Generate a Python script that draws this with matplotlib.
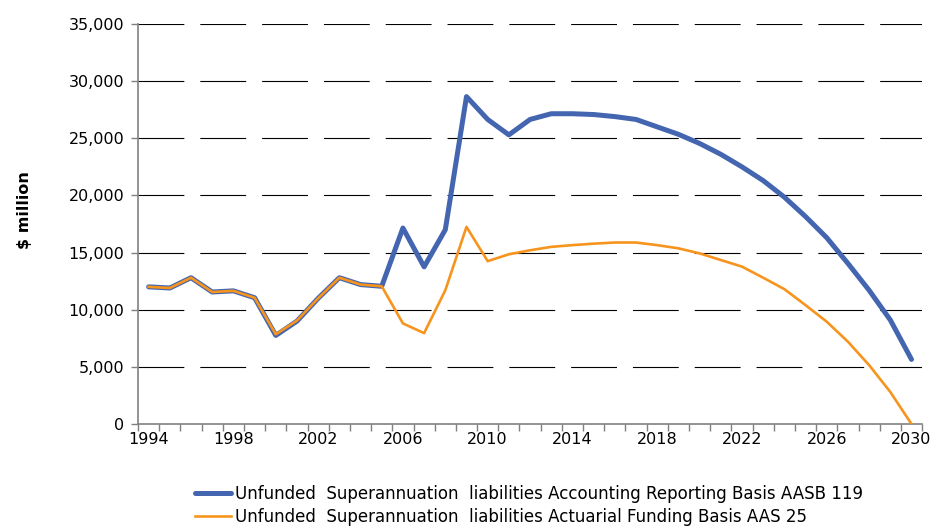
import matplotlib
matplotlib.use("Agg")
import matplotlib.pyplot as plt
import numpy as np
from matplotlib.ticker import FuncFormatter, MultipleLocator, FixedLocator

plt.rcParams['font.family'] = ['DejaVu Sans']
plt.rcParams['lines.scale_dashes'] = False

years = list(range(1994, 2031))
aasb119 = [12000, 11900, 12800, 11550, 11650, 11050, 7750, 9000, 11000, 12800, 12200, 12050,
           17150, 13750, 17000, 28650, 26650, 25300, 26650, 27150, 27150, 27080, 26900, 26650,
           26000, 25350, 24550, 23600, 22500, 21300, 19850, 18150, 16300, 14050, 11700, 9100, 5650]
aas25 = [12000, 11900, 12800, 11550, 11650, 11050, 7850, 9050, 11000, 12800, 12200, 12050,
         8800, 7950, 11700, 17250, 14250, 14850, 15200, 15500, 15650, 15780, 15880, 15880,
         15650, 15370, 14930, 14350, 13770, 12800, 11800, 10400, 8950, 7200, 5150, 2800, 0]

label1 = "Unfunded  Superannuation  liabilities Accounting Reporting Basis AASB 119"
label2 = "Unfunded  Superannuation  liabilities Actuarial Funding Basis AAS 25"

fs = 11.5
fig = plt.figure(figsize=(9.39, 5.28), dpi=100)
ax = fig.add_axes([0.147, 0.197, 0.835, 0.7575])

for v in range(5000, 35001, 5000):
    ax.axhline(v, color='black', lw=0.8, linestyle=(0, (33, 11.5)), zorder=1)

ax.plot(years, aasb119, color='#4466B0', lw=3.6, solid_capstyle='round', solid_joinstyle='round', zorder=3, label=label1)
ax.plot(years, aas25, color='#F7941D', lw=1.9, solid_joinstyle='round', zorder=4, label=label2)

ax.set_xlim(1993.5, 2030.5)
ax.set_ylim(0, 35000)
ax.yaxis.set_major_locator(MultipleLocator(5000))
ax.yaxis.set_major_formatter(FuncFormatter(lambda v, p: f"{int(v):,}"))
ax.xaxis.set_major_locator(FixedLocator(list(range(1994, 2031, 4))))
ax.xaxis.set_minor_locator(FixedLocator(list(np.arange(1993.5, 2031, 1.0))))
ax.tick_params(axis='x', which='major', length=0, pad=6, labelsize=fs)
ax.tick_params(axis='x', which='minor', length=5, color='#808080', width=1)
ax.tick_params(axis='y', which='major', length=5, color='#808080', width=1, labelsize=fs, pad=5)

for s in ['top', 'right']:
    ax.spines[s].set_visible(False)
for s in ['left', 'bottom']:
    ax.spines[s].set_color('#808080')
    ax.spines[s].set_linewidth(1.2)

fig.text(25 / 939, 1 - 210 / 528, "$ million", fontsize=fs, fontweight='bold',
         rotation=90, ha='center', va='center')

leg = fig.legend(loc='upper left', bbox_to_anchor=(0.208, 0.0815), frameon=False,
                 fontsize=12, handlelength=2.15, handletextpad=0.25, labelspacing=0.3,
                 borderpad=0, borderaxespad=0)

fig.savefig("out.png", dpi=100)
